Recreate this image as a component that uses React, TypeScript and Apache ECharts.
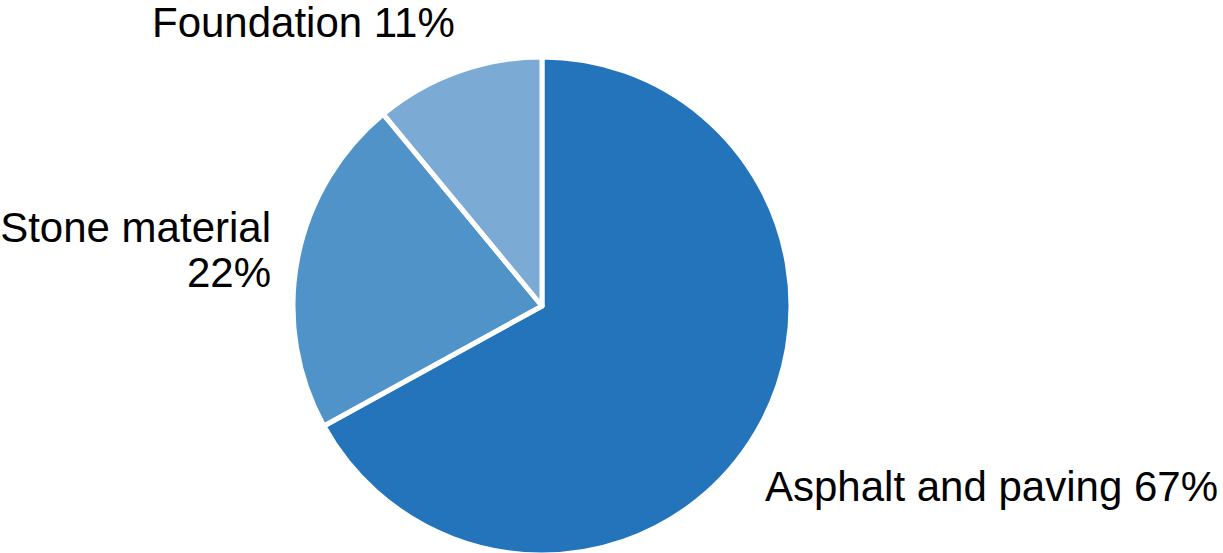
import React, { useEffect, useRef } from "react";
import * as echarts from "echarts";

const categories = ["Asphalt and paving", "Stone material", "Foundation"];
const shares = [67, 22, 11];
const colors = ["#2474BB", "#5093C9", "#7BABD4"];

export default function App() {
  const ref = useRef<HTMLDivElement>(null);
  useEffect(() => {
    if (!ref.current) return;
    const chart = echarts.init(ref.current, undefined, { renderer: "svg" });
    const labelPos = [
      { x: 765, y: 486, align: "left" },
      { x: 271, y: 250, align: "right" },
      { x: 152, y: 22, align: "left" },
    ];
    chart.setOption({
      animation: false,
      backgroundColor: "#ffffff",
      series: [
        {
          type: "pie",
          center: [542, 306],
          radius: 249,
          startAngle: 90,
          clockwise: true,
          data: categories.map((c, i) => ({
            name: c,
            value: shares[i],
            itemStyle: { color: colors[i] },
          })),
          itemStyle: { borderColor: "#ffffff", borderWidth: 5 },
          label: {
            show: true,
            color: "#000000",
            fontFamily: "Liberation Sans, Arial, sans-serif",
            fontSize: 42,
            lineHeight: 45,
            overflow: "none",
            formatter: (p: any) =>
              p.dataIndex === 1 ? `${p.name}\n${p.value}%` : `${p.name} ${p.value}%`,
          },
          labelLine: { show: false },
          labelLayout: (p: any) => {
            const l = labelPos[p.dataIndex];
            return { x: l.x, y: l.y, align: l.align, verticalAlign: "middle" };
          },
          emphasis: { disabled: true },
        },
      ],
    });
    return () => chart.dispose();
  }, []);
  return (
    <div
      ref={ref}
      style={{ position: "fixed", left: 0, top: 0, width: 1223, height: 553 }}
    />
  );
}
